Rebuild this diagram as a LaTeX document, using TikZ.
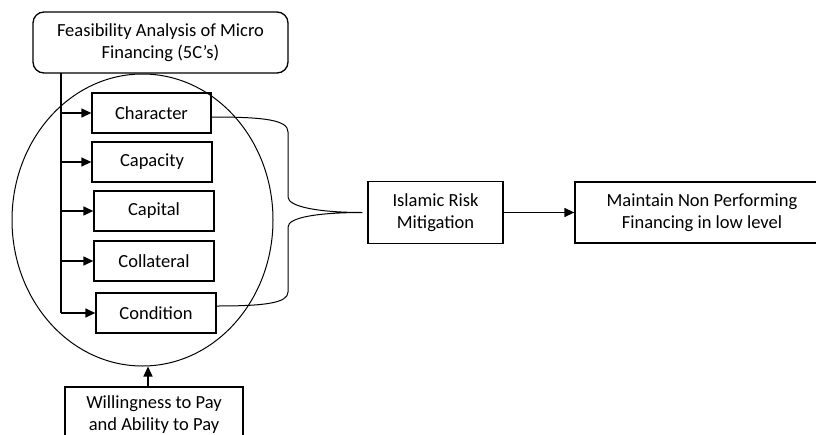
\documentclass[tikz,border=0pt]{standalone}
\usepackage{fontspec}
\setmainfont{Carlito}
\usetikzlibrary{arrows.meta,shapes.geometric,calc}
\begin{document}
\begin{tikzpicture}[x=1pt,y=-1pt,
  box/.style={draw,line width=1.3pt,inner sep=0pt,align=center,
    font=\fontsize{18.5}{22}\selectfont},
  smallbox/.style={box,minimum width=120pt,minimum height=40pt},
  arr/.style={line width=1.3pt,-{Triangle[length=10pt,width=9pt]}},
  thin/.style={line width=1pt}]
\useasboundingbox (0,0) rectangle (816,434);
% ellipse
\node[draw,thin,ellipse,minimum width=261pt,minimum height=292pt,inner sep=0pt] (ell) at (142.5,220) {};
% boxes
\node[box,rounded corners=11pt,minimum width=255pt,minimum height=61pt] (feas) at (160.5,42.5)
  {Feasibility Analysis of Micro\\Financing (5C’s)};
\node[smallbox,minimum width=119pt] (char) at (151.5,113) {Character};
\node[smallbox] (capa) at (152,162) {Capacity};
\node[smallbox] (capi) at (154,211) {Capital};
\node[smallbox] (coll) at (154,261) {Collateral};
\node[smallbox] (cond) at (156,313) {Condition};
\node[box,minimum width=135pt,minimum height=62pt] (irm) at (435.5,212.5) {Islamic Risk\\Mitigation};
\node[box,minimum width=254pt,minimum height=61pt] (npf) at (702,212.5) {Maintain Non Performing\\Financing in low level};
\node[box,minimum width=178pt,minimum height=56pt] (wap) at (154,415) {Willingness to Pay\\and Ability to Pay};
% trunk
\coordinate (trunk) at (61,73);
\draw[line width=1.3pt] (trunk) -- (trunk |- cond.west) coordinate (tb);
\draw[arr] (tb) -- (cond.west);
\foreach \b in {char,capa,capi,coll}
  \draw[arr] (trunk |- \b.west) -- (\b.west);
% brace
\coordinate (tip) at ($(irm.west)+(-5,0)$);
\draw[thin] ($(char.east)+(0,4)$) .. controls (265,117) and (288,120) .. (288,132)
  -- (288,197) .. controls (288,207) and (320,212.5) .. (tip)
  .. controls (320,212.5) and (288,217) .. (288,227)
  -- (288,292) .. controls (288,303) and (265,306) .. ($(cond.east)+(0,-7)$);
% arrows
\draw[arr] (irm.east) -- (npf.west);
\draw[arr] ([xshift=-6pt]wap.north) -- ([xshift=-6pt]wap.north |- ell.south);
\end{tikzpicture}
\end{document}
